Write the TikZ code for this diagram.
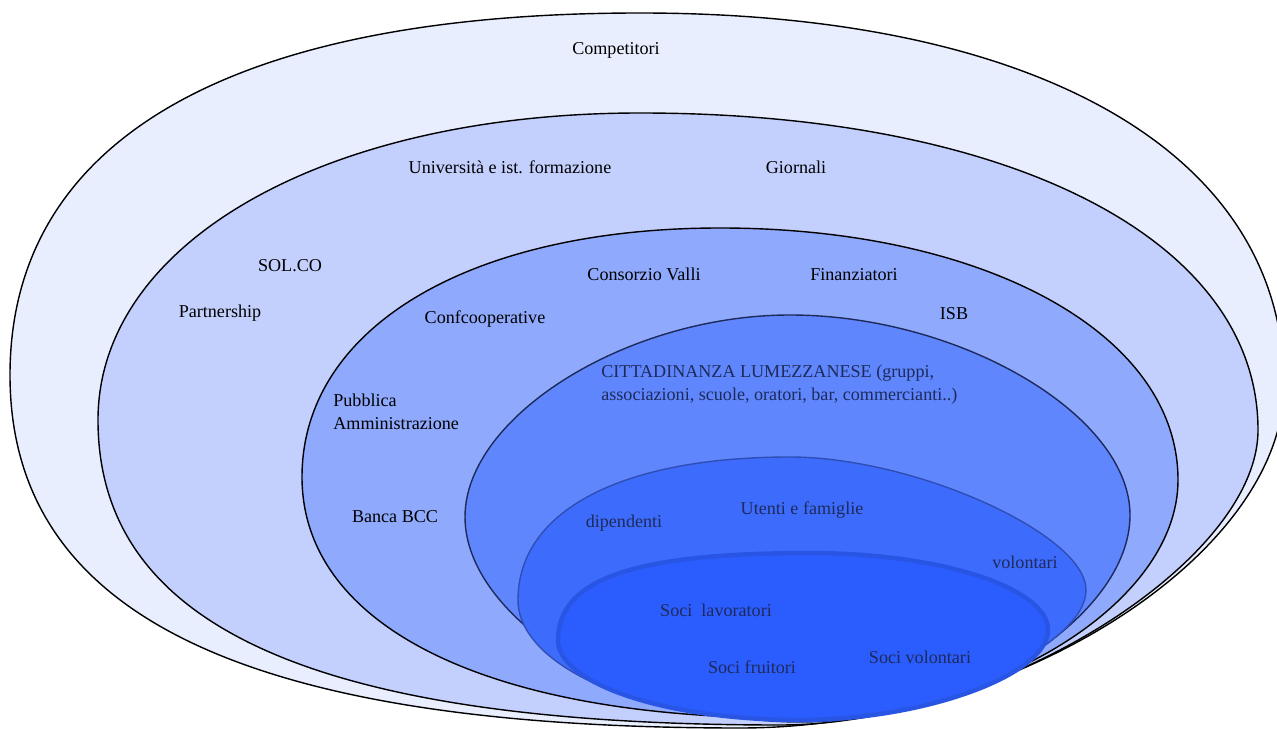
\documentclass[tikz,border=0pt]{standalone}
\usepackage{fontspec}
\setmainfont{Liberation Serif}
\definecolor{liv1}{RGB}{232,238,253}
\definecolor{liv2}{RGB}{195,208,253}
\definecolor{liv3}{RGB}{143,169,253}
\definecolor{liv4}{RGB}{95,134,253}
\definecolor{liv5}{RGB}{61,108,253}
\definecolor{liv6}{RGB}{43,92,253}
\definecolor{navy}{RGB}{30,42,90}
\begin{document}
\begin{tikzpicture}[x=0.02cm,y=-0.02cm,
	lab/.style={font=\fontsize{10.3}{13}\selectfont,inner sep=0pt},
	labin/.style={lab,text=navy},
	ring/.style={line width=0.8pt}]
	\useasboundingbox (0,0) rectangle (1277,729);
	% anelli esterni
	\draw[ring,fill=liv1] (10,375) .. controls (10,140) and (230,13) .. (640,13)
		.. controls (1039,13) and (1284,154) .. (1284,385)
		.. controls (1284,556) and (1012,728) .. (740,728)
		.. controls (244,728) and (10,615) .. cycle;
	\draw[ring,fill=liv2] (98,420) .. controls (98,242) and (326,113) .. (640,113)
		.. controls (1011,113) and (1258,240) .. (1258,430)
		.. controls (1258,563) and (995,725) .. (780,725)
		.. controls (316,725) and (98,627) .. cycle;
	\draw[ring,fill=liv3] (302,477) .. controls (302,328) and (469,228) .. (720,228)
		.. controls (986,228) and (1178,334) .. (1178,480)
		.. controls (1178,604) and (992,718) .. (790,718)
		.. controls (487,718) and (302,626) .. cycle;
	% anelli interni
	\draw[ring,draw=navy,fill=liv4] (465,517) .. controls (465,416) and (628,315) .. (790,315)
		.. controls (960,315) and (1130,415) .. (1130,515)
		.. controls (1130,618) and (965,722) .. (800,722)
		.. controls (632,722) and (465,620) .. cycle;
	\draw[ring,draw=liv5!55!navy,fill=liv5] (518,600) .. controls (518,511) and (621,457) .. (790,457)
		.. controls (914,457) and (1086,534) .. (1086,590)
		.. controls (1086,648) and (923,720) .. (790,720)
		.. controls (640,720) and (518,666) .. cycle;
	\draw[line width=2.5pt,draw=liv6!85!navy,fill=liv6] (558,640) .. controls (558,579) and (634,553) .. (810,553)
		.. controls (941,553) and (1048,588) .. (1048,630)
		.. controls (1048,675) and (924,720) .. (800,720)
		.. controls (667,720) and (558,684) .. cycle;
	% etichette
	\node[lab] (comp) at (616,50) {Competitori};
	\node[lab] (univ) at (510,167) {Università e ist. formazione};
	\node[lab] (giorn) at (796,167) {Giornali};
	\node[lab] (solco) at (290,266) {SOL.CO};
	\node[lab] (partn) at (220,313) {Partnership};
	\node[lab] (consv) at (644,274) {Consorzio Valli};
	\node[lab] (finanz) at (854,275) {Finanziatori};
	\node[lab] (confc) at (485,319) {Confcooperative};
	\node[lab] (isb) at (954,314) {ISB};
	\node[lab,align=left,anchor=west] (pa) at (333,412) {Pubblica\\Amministrazione};
	\node[lab] (bcc) at (395,517) {Banca BCC};
	\node[labin,align=left,anchor=west] (citt) at (601,385) {CITTADINANZA LUMEZZANESE (gruppi,\\associazioni, scuole, oratori, bar, commercianti..)};
	\node[labin] (dip) at (624,523) {dipendenti};
	\node[labin] (utenti) at (802,510) {Utenti e famiglie};
	\node[labin] (vol) at (1025,562) {volontari};
	\node[labin] (slav) at (716,610) {Soci\ \ lavoratori};
	\node[labin] (sfru) at (752,667) {Soci fruitori};
	\node[labin] (svol) at (920,657) {Soci volontari};
\end{tikzpicture}
\end{document}
